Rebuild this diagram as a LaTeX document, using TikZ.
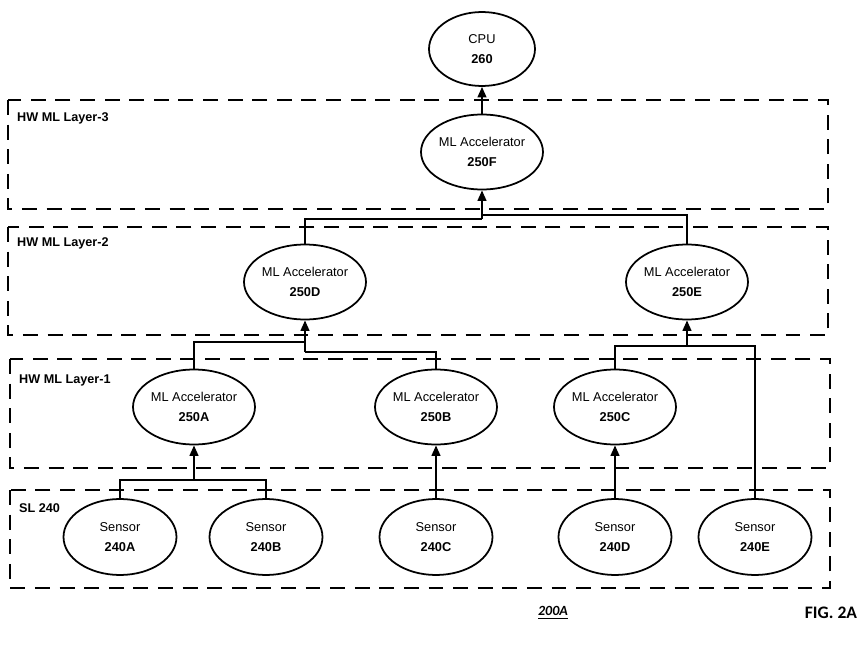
\documentclass[tikz,border=0pt]{standalone}
\usepackage{fontspec}
\setmainfont{Liberation Sans}
\newfontfamily\figfont{Carlito}
\usetikzlibrary{shapes.geometric, arrows.meta}

\begin{document}
\begin{tikzpicture}[x=0.02cm, y=-0.02cm, >={Triangle[width=5pt, length=6pt]},
  unit/.style={ellipse, draw, line width=1pt, inner sep=0pt, align=center,
               minimum width=2.28cm, minimum height=1.5cm,
               font=\fontsize{7.3}{11.3}\selectfont},
  layer/.style={draw, line width=1pt, dash pattern=on 8.5pt off 5.5pt},
  layername/.style={anchor=west, font=\fontsize{7.2}{9}\selectfont\bfseries},
  link/.style={line width=1.1pt}]

  \useasboundingbox (0,0) rectangle (867,649);

  % Warstwy sprzetowe
  \draw[layer] (8,100) rectangle (828,209);
  \draw[layer] (8,227) rectangle (828,335);
  \draw[layer] (10,359) rectangle (830,468);
  \draw[layer] (10,490) rectangle (830,588);

  \node[layername] (l3) at (11,118) {HW ML Layer-3};
  \node[layername] (l2) at (11,243) {HW ML Layer-2};
  \node[layername] (l1) at (13,380) {HW ML Layer-1};
  \node[layername] (sl) at (13,508) {SL 240};

  % CPU
  \node[unit, minimum width=2.12cm, minimum height=1.48cm] (cpu) at (482,49)
    {CPU\\\textbf{260}};

  % Akceleratory ML
  \node[unit] (accF) at (482,152) {ML Accelerator\\\textbf{250F}};
  \node[unit] (accD) at (305,282) {ML Accelerator\\\textbf{250D}};
  \node[unit] (accE) at (687,282) {ML Accelerator\\\textbf{250E}};
  \node[unit] (accA) at (194,407) {ML Accelerator\\\textbf{250A}};
  \node[unit] (accB) at (436,407) {ML Accelerator\\\textbf{250B}};
  \node[unit] (accC) at (615,407) {ML Accelerator\\\textbf{250C}};

  % Czujniki
  \node[unit, minimum width=2.26cm, minimum height=1.52cm] (senA) at (120,537)
    {Sensor\\\textbf{240A}};
  \node[unit, minimum width=2.26cm, minimum height=1.52cm] (senB) at (266,537)
    {Sensor\\\textbf{240B}};
  \node[unit, minimum width=2.26cm, minimum height=1.52cm] (senC) at (436,537)
    {Sensor\\\textbf{240C}};
  \node[unit, minimum width=2.26cm, minimum height=1.52cm] (senD) at (615,537)
    {Sensor\\\textbf{240D}};
  \node[unit, minimum width=2.26cm, minimum height=1.52cm] (senE) at (755,537)
    {Sensor\\\textbf{240E}};

  % Punkty polaczen
  \coordinate (jF1) at (482,219);
  \coordinate (jF2) at (482,215);
  \coordinate (jD1) at (305,342);
  \coordinate (jD2) at (305,352);
  \coordinate (jE) at (687,346);
  \coordinate (jA) at (194,480);

  % Strzalki
  \draw[link, ->] (accF) -- (cpu);
  \draw[link] (accD.north) |- (jF1);
  \draw[link] (accE.north) |- (jF2);
  \draw[link, ->] (jF1) -- (accF.south);
  \draw[link] (accA.north) |- (jD1);
  \draw[link] (accB.north) |- (jD2);
  \draw[link, ->] (jD2) -- (accD.south);
  \draw[link] (accC.north) |- (jE) -| (senE.north);
  \draw[link, ->] (jE) -- (accE.south);
  \draw[link] (senA.north) |- (jA) -| (senB.north);
  \draw[link, ->] (jA) -- (accA.south);
  \draw[link, ->] (senC) -- (accB);
  \draw[link, ->] (senD) -- (accC);

  % Podpis
  \node[font=\figfont\fontsize{8}{10}\selectfont\bfseries\itshape] (figref) at (553,613)
    {\underline{200A}};
  \node[font=\figfont\fontsize{10}{12}\selectfont\bfseries] (figno) at (831,613)
    {FIG. 2A};
\end{tikzpicture}
\end{document}
